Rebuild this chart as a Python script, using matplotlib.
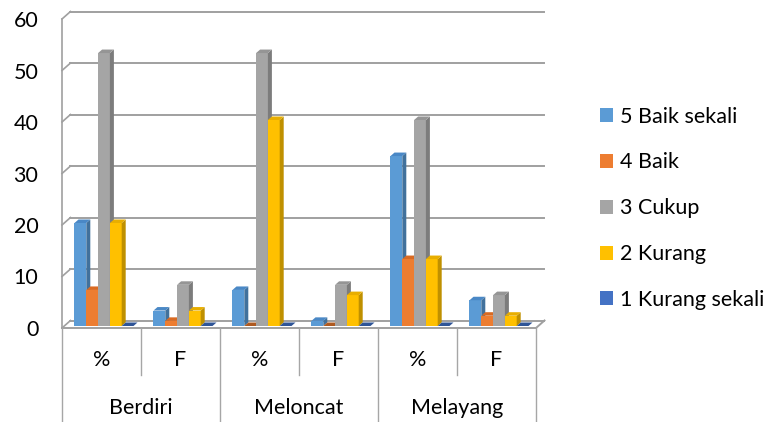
import matplotlib
matplotlib.use("Agg")
import matplotlib.pyplot as plt
from matplotlib.patches import Polygon, Patch

plt.rcParams['font.family'] = ['Lato', 'DejaVu Sans']

# data
groups = ['Berdiri', 'Meloncat', 'Melayang']
subcats = ['%', 'F', '%', 'F', '%', 'F']
series = ['5 Baik sekali', '4 Baik', '3 Cukup', '2 Kurang', '1 Kurang sekali']
baik_sekali = [20, 3, 7, 1, 33, 5]
baik = [7, 1, 0, 0, 13, 2]
cukup = [53, 8, 53, 8, 40, 6]
kurang = [20, 3, 40, 6, 13, 2]
kurang_sekali = [0, 0, 0, 0, 0, 0]
values = [baik_sekali, baik, cukup, kurang, kurang_sekali]

front = ['#5B9BD5', '#ED7D31', '#A5A5A5', '#FFC000', '#4472C4']
side = ['#41719C', '#AE5A21', '#7C7C7C', '#BF9000', '#2F5597']
top = ['#4A88C6', '#D96A22', '#959595', '#E8AE00', '#3A64B0']

FS = 15.5

W, H = 772, 422
fig = plt.figure(figsize=(W / 100, H / 100), dpi=100)
# front plane of the 3d box, in pixels
x0, x1, y0, y1 = 62, 536, 328, 19
ax = fig.add_axes([x0 / W, (H - y0) / H, (x1 - x0) / W, (y0 - y1) / H])
ax.set_xlim(0, 6)
ax.set_ylim(0, 60)
px_x = (x1 - x0) / 6.0
px_y = (y0 - y1) / 60.0

def dx(p):
    return p / px_x

def dy(p):
    return p / px_y

for s in ax.spines.values():
    s.set_visible(False)
ax.set_xticks([])
ax.set_yticks(range(0, 61, 10))
ax.tick_params(axis='y', length=0, pad=17, labelsize=FS)

grid_c = '#A0A0A0'
wx, wy = dx(8.5), dy(7.5)
# back wall gridlines + diagonal ticks on the left wall
for v in range(0, 61, 10):
    ax.plot([wx, 6 + wx], [v + wy, v + wy], color=grid_c, lw=1.4, clip_on=False, zorder=1)
    ax.plot([0, wx], [v, v + wy], color=grid_c, lw=1.2, clip_on=False, zorder=1)
ax.plot([0, 0], [0, 60], color=grid_c, lw=1.2, clip_on=False, zorder=1)
# floor
ax.plot([0, 6, 6 + wx], [0, 0, wy], color=grid_c, lw=1.4, clip_on=False, zorder=1)

# 3d bars
bw = dx(11.8)
start = dx(12)
fx, fy = dx(0.5), dy(2)
ddx, ddy = dx(4), dy(3.5)
for i in range(len(subcats)):
    for k in range(len(series)):
        v = values[k][i]
        xl = i + start + k * bw + fx
        xr = xl + bw
        b = fy
        t = fy + v
        if v > 0:
            ax.add_patch(Polygon([(xl, b), (xr, b), (xr, t), (xl, t)], closed=True,
                                 fc=front[k], ec='none', zorder=3, clip_on=False))
            ax.add_patch(Polygon([(xr, b), (xr + ddx, b + ddy), (xr + ddx, t + ddy), (xr, t)],
                                 closed=True, fc=side[k], ec='none', zorder=3, clip_on=False))
        ax.add_patch(Polygon([(xl, t), (xr, t), (xr + ddx, t + ddy), (xl + ddx, t + ddy)],
                             closed=True, fc=top[k] if v > 0 else side[k], ec='none',
                             zorder=3, clip_on=False))

# multi-level category axis
xt = ax.get_xaxis_transform()
ax_h = y0 - y1
for i in range(7):
    low = -(422 - y0) / ax_h if i % 2 == 0 else -(375 - y0) / ax_h
    ax.plot([i, i], [0, low], color='#A6A6A6', lw=1.0, transform=xt, clip_on=False)
for i, lab in enumerate(subcats):
    ax.text(i + 0.5, -(360 - y0) / ax_h, lab, transform=xt, ha='center', va='center',
            fontsize=FS, color='#000000')
for g, lab in enumerate(groups):
    ax.text(2 * g + 1, -(408 - y0) / ax_h, lab, transform=xt, ha='center', va='center',
            fontsize=FS, color='#000000')

handles = [Patch(facecolor=c, edgecolor='none') for c in front]
fig.legend(handles, series, loc='upper left', bbox_to_anchor=(591 / W, 1 - 98 / H),
           frameon=False, fontsize=FS, handlelength=0.62, handleheight=0.62,
           handletextpad=0.35, labelspacing=1.2, borderaxespad=0)

fig.savefig('out.png', dpi=100)
